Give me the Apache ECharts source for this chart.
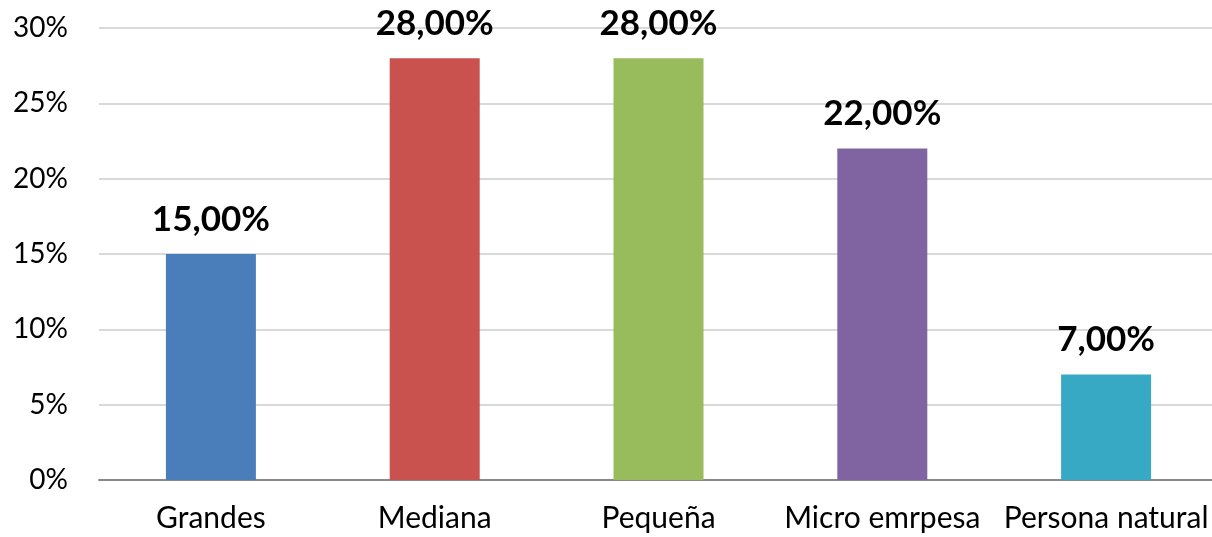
<!DOCTYPE html>
<html>
<head>
<meta charset="utf-8">
<script src="https://cdn.jsdelivr.net/npm/echarts@6/dist/echarts.min.js"></script>
<style>
  html, body { margin: 0; padding: 0; background: #fff; overflow: hidden; }
  /* el grafico original corta el eje derecho, por eso el div es un poco mas ancho */
  #chart { width: 1218px; height: 537px; }
</style>
</head>
<body>
<div id="chart"></div>
<script>
  // categorias y porcentajes
  var categorias = ['Grandes', 'Mediana', 'Pequeña', 'Micro emrpesa', 'Persona natural'];
  var valores = [15, 28, 28, 22, 7];
  var colores = ['#4a7ebb', '#c9514e', '#98bb5b', '#8064a2', '#37a9c5'];

  var dom = echarts.init(document.getElementById('chart'));
  var fuente = 'Lato, "Open Sans", sans-serif';

  var option = {
    animation: false,
    grid: {
      left: 99,
      right: 0,
      top: 28,
      bottom: 57,
      containLabel: false
    },
    xAxis: {
      type: 'category',
      data: categorias,
      axisTick: { show: false },
      axisLine: { lineStyle: { color: '#898989', width: 2 } },
      axisLabel: {
        color: '#000',
        fontFamily: fuente,
        fontSize: 30,
        margin: 23,
        interval: 0
      }
    },
    yAxis: {
      type: 'value',
      min: 0,
      max: 30,
      interval: 5,
      axisLine: { show: false },
      axisTick: { show: false },
      splitLine: { lineStyle: { color: '#d9d9d9', width: 2 } },
      axisLabel: {
        color: '#000',
        fontFamily: fuente,
        fontSize: 28,
        margin: 31,
        formatter: function (v) { return v + '%'; }
      }
    },
    series: [{
      type: 'bar',
      barWidth: 90,
      data: valores.map(function (v, i) {
        return { value: v, itemStyle: { color: colores[i] } };
      }),
      label: {
        show: true,
        position: 'top',
        distance: 17,
        color: '#000',
        fontFamily: fuente,
        fontWeight: 'bold',
        fontSize: 35,
        formatter: function (p) { return p.value.toFixed(2).replace('.', ',') + '%'; }
      }
    }]
  };

  dom.setOption(option);
  window.addEventListener('resize', function () { dom.resize(); });
</script>
</body>
</html>
